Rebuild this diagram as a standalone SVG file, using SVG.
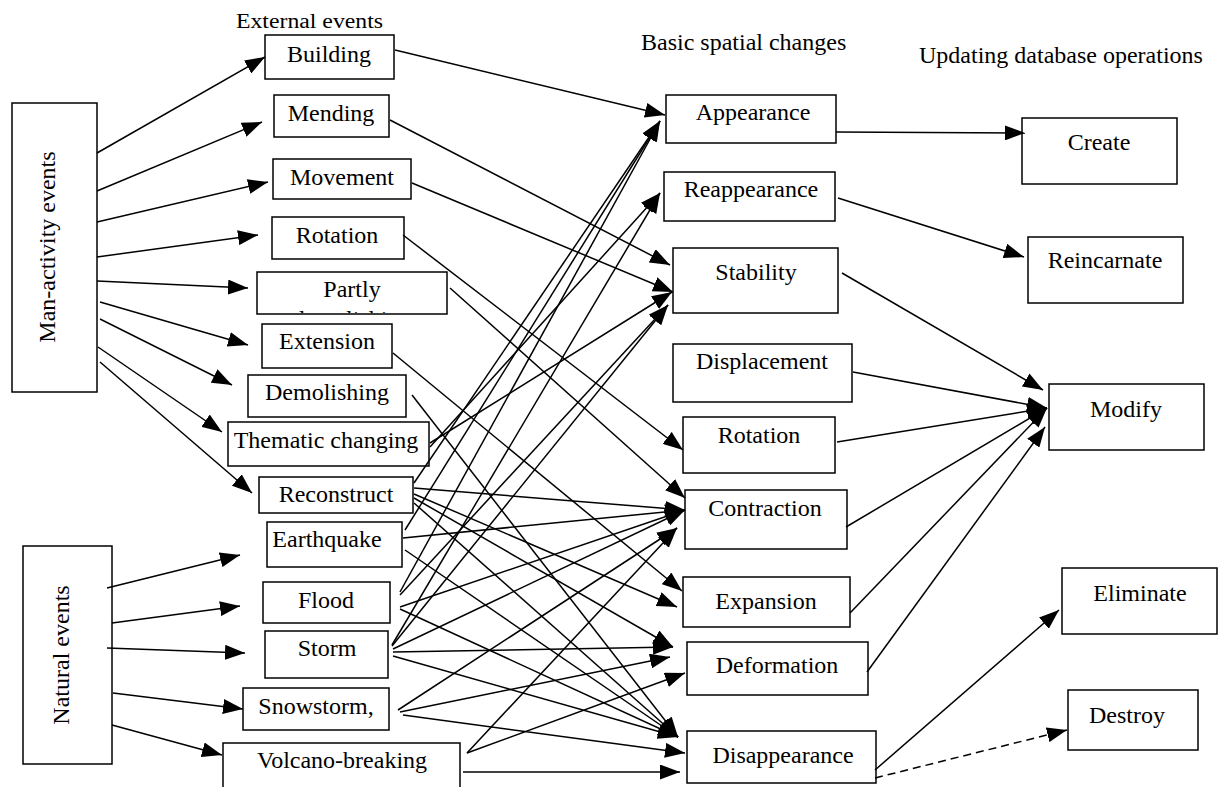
<svg xmlns="http://www.w3.org/2000/svg" width="1218" height="787" viewBox="0 0 1218 787">
<style>
.b{fill:#fff;stroke:#000;stroke-width:1.5}
.t{font-size:24px;text-anchor:middle;fill:#000}
.h{font-size:24px;fill:#000}
.c{stroke:#000;stroke-width:1.5;fill:none;marker-end:url(#ah)}
.d{stroke-dasharray:8,5}
</style>
<defs>
<marker id="ah" markerUnits="userSpaceOnUse" markerWidth="20" markerHeight="15" refX="20" refY="7.5" orient="auto">
<path d="M0,0 L20,7.5 L0,15 z" fill="#000"/>
</marker>
<clipPath id="cp"><rect x="258" y="273" width="188" height="40"/></clipPath>
</defs>
<rect width="1218" height="787" fill="#fff"/>
<g font-family="Liberation Serif, Times New Roman, DejaVu Serif, serif">
<g id="headers">
<text class="h" x="236" y="28" font-size="20" style="font-size:20px" textLength="147" lengthAdjust="spacingAndGlyphs">External events</text>
<text class="h" x="641" y="50">Basic spatial changes</text>
<text class="h" x="919" y="63">Updating database operations</text>
</g>
<g id="man-activity"><rect class="b" x="12" y="103" width="85" height="289"/><text class="t" transform="translate(55,247) rotate(-90)">Man-activity events</text></g>
<g id="natural"><rect class="b" x="23" y="546" width="89" height="218"/><text class="t" transform="translate(69,655) rotate(-90)">Natural events</text></g>
<g id="building"><rect class="b" x="265" y="35" width="129" height="44"/><text class="t" x="329" y="62">Building</text></g>
<g id="mending"><rect class="b" x="274" y="95" width="115" height="42"/><text class="t" x="331" y="121">Mending</text></g>
<g id="movement"><rect class="b" x="273" y="159" width="138" height="40"/><text class="t" x="342" y="185">Movement</text></g>
<g id="rotation-l"><rect class="b" x="272" y="217" width="132" height="42"/><text class="t" x="337" y="243">Rotation</text></g>
<g id="partly"><rect class="b" x="257" y="272" width="190" height="42"/><text class="t" x="352" y="297">Partly</text><text class="t" x="352" y="327" clip-path="url(#cp)">demolishing</text></g>
<g id="extension"><rect class="b" x="262" y="324" width="130" height="44"/><text class="t" x="327" y="349">Extension</text></g>
<g id="demolishing"><rect class="b" x="248" y="375" width="158" height="42"/><text class="t" x="327" y="400">Demolishing</text></g>
<g id="thematic"><rect class="b" x="228" y="422" width="201" height="44"/><text class="t" x="326" y="448">Thematic changing</text></g>
<g id="reconstruct"><rect class="b" x="259" y="477" width="154" height="36"/><text class="t" x="336" y="502">Reconstruct</text></g>
<g id="earthquake"><rect class="b" x="267" y="522" width="135" height="45"/><text class="t" x="327" y="547">Earthquake</text></g>
<g id="flood"><rect class="b" x="263" y="582" width="127" height="41"/><text class="t" x="326" y="608">Flood</text></g>
<g id="storm"><rect class="b" x="265" y="631" width="123" height="47"/><text class="t" x="327" y="656">Storm</text></g>
<g id="snowstorm"><rect class="b" x="243" y="688" width="146" height="42"/><text class="t" x="316" y="714">Snowstorm,</text></g>
<g id="volcano"><rect class="b" x="223" y="743" width="237" height="60"/><text class="t" x="342" y="768">Volcano-breaking</text></g>
<g id="appearance"><rect class="b" x="666" y="95" width="170" height="48"/><text class="t" x="753" y="120">Appearance</text></g>
<g id="reappearance"><rect class="b" x="664" y="172" width="171" height="49"/><text class="t" x="751" y="197">Reappearance</text></g>
<g id="stability"><rect class="b" x="673" y="248" width="165" height="65"/><text class="t" x="756" y="280">Stability</text></g>
<g id="displacement"><rect class="b" x="673" y="344" width="179" height="58"/><text class="t" x="762" y="369">Displacement</text></g>
<g id="rotation-m"><rect class="b" x="683" y="417" width="152" height="56"/><text class="t" x="759" y="443">Rotation</text></g>
<g id="contraction"><rect class="b" x="685" y="490" width="162" height="59"/><text class="t" x="765" y="516">Contraction</text></g>
<g id="expansion"><rect class="b" x="683" y="577" width="167" height="50"/><text class="t" x="766" y="609">Expansion</text></g>
<g id="deformation"><rect class="b" x="687" y="642" width="181" height="53"/><text class="t" x="777" y="673">Deformation</text></g>
<g id="disappearance"><rect class="b" x="687" y="731" width="189" height="52"/><text class="t" x="783" y="763">Disappearance</text></g>
<g id="create"><rect class="b" x="1022" y="118" width="155" height="66"/><text class="t" x="1099" y="150">Create</text></g>
<g id="reincarnate"><rect class="b" x="1028" y="237" width="155" height="66"/><text class="t" x="1105" y="268">Reincarnate</text></g>
<g id="modify"><rect class="b" x="1049" y="384" width="155" height="66"/><text class="t" x="1126" y="417">Modify</text></g>
<g id="eliminate"><rect class="b" x="1062" y="568" width="155" height="66"/><text class="t" x="1140" y="601">Eliminate</text></g>
<g id="destroy"><rect class="b" x="1068" y="690" width="130" height="60"/><text class="t" x="1127" y="723">Destroy</text></g>
</g>
<g id="connectors">
<path class="c" d="M97,153 L265,57"/>
<path class="c" d="M97,191 L262,122"/>
<path class="c" d="M97,222 L268,182"/>
<path class="c" d="M97,257 L258,235"/>
<path class="c" d="M97,281 L248,288"/>
<path class="c" d="M100,302 L248,345"/>
<path class="c" d="M100,319 L232,385"/>
<path class="c" d="M98,347 L222,432"/>
<path class="c" d="M100,362 L252,493"/>
<path class="c" d="M107,588 L240,555"/>
<path class="c" d="M112,623 L240,606"/>
<path class="c" d="M107,648 L245,653"/>
<path class="c" d="M113,693 L243,709"/>
<path class="c" d="M112,725 L222,755"/>
<path class="c" d="M395,50 L665,115"/>
<path class="c" d="M390,120 L670,265"/>
<path class="c" d="M412,183 L673,292"/>
<path class="c" d="M403,235 L683,450"/>
<path class="c" d="M450,288 L685,498"/>
<path class="c" d="M393,353 L682,591"/>
<path class="c" d="M412,395 L678,737"/>
<path class="c" d="M430,443 L672,292"/>
<path class="c" d="M430,447 L660,193"/>
<path class="c" d="M414,483 L660,121"/>
<path class="c" d="M414,488 L685,510"/>
<path class="c" d="M414,494 L677,607"/>
<path class="c" d="M414,498 L673,647"/>
<path class="c" d="M414,503 L678,737"/>
<path class="c" d="M405,530 L660,121"/>
<path class="c" d="M403,538 L685,510"/>
<path class="c" d="M405,550 L678,737"/>
<path class="c" d="M400,592 L660,121"/>
<path class="c" d="M400,595 L668,305"/>
<path class="c" d="M400,607 L685,510"/>
<path class="c" d="M400,609 L678,737"/>
<path class="c" d="M392,645 L660,193"/>
<path class="c" d="M392,646 L668,305"/>
<path class="c" d="M393,649 L685,510"/>
<path class="c" d="M393,652 L673,647"/>
<path class="c" d="M393,656 L678,737"/>
<path class="c" d="M398,710 L677,528"/>
<path class="c" d="M400,712 L670,657"/>
<path class="c" d="M403,715 L685,753"/>
<path class="c" d="M467,753 L677,528"/>
<path class="c" d="M467,753 L685,673"/>
<path class="c" d="M463,772 L680,772"/>
<path class="c" d="M836,132 L1025,133"/>
<path class="c" d="M838,198 L1024,257"/>
<path class="c" d="M842,273 L1043,390"/>
<path class="c" d="M853,372 L1047,408"/>
<path class="c" d="M837,442 L1047,408"/>
<path class="c" d="M846,527 L1047,408"/>
<path class="c" d="M850,613 L1047,408"/>
<path class="c" d="M867,672 L1045,427"/>
<path class="c" d="M875,770 L1059,610"/>
<path class="c d" d="M875,778 L1067,730"/>
</g>
</svg>
